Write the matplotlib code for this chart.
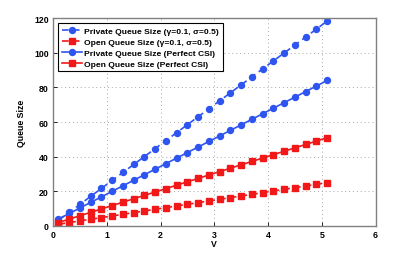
import matplotlib
matplotlib.use("Agg")
import matplotlib.pyplot as plt
import numpy as np

V = np.arange(0.1, 5.15, 0.2)

# fitted from the reference picture (straight lines)
private_est = 23.0 * V + 1.0
open_est = 4.8 * V + 0.5
private_csi = 16.0 * V + 2.4
open_csi = 9.8 * V + 1.0

blue = "#2f55f0"
red = "#f01818"

plt.rcParams["font.family"] = ["Liberation Sans", "DejaVu Sans"]
plt.rcParams["font.weight"] = "bold"

fig = plt.figure(figsize=(4.15, 2.55), dpi=100)
ax = fig.add_axes([0.128, 0.110, 0.777, 0.815])

ax.plot(V, private_est, "--o", color=blue, lw=1.2, ms=4.3, dashes=(4, 2.5),
        label="Private Queue Size (\u03b3=0.1, \u03c3=0.5)")
ax.plot(V, open_est, "--s", color=red, lw=1.2, ms=4.0, dashes=(4, 2.5),
        label="Open Queue Size (\u03b3=0.1, \u03c3=0.5)")
ax.plot(V, private_csi, "-o", color=blue, lw=1.2, ms=4.3,
        label="Private Queue Size (Perfect CSI)")
ax.plot(V, open_csi, "-s", color=red, lw=1.2, ms=4.0,
        label="Open Queue Size (Perfect CSI)")

ax.set_xlim(0, 6)
ax.set_ylim(0, 120)
ax.set_xticks(range(0, 7))
ax.set_yticks(range(0, 121, 20))
ax.grid(True, linestyle=(0, (1, 3)), color="#a8a8a8", lw=0.7)
ax.tick_params(labelsize=6.3, direction="in", length=3, width=0.6, pad=3)
for s in ax.spines.values():
    s.set_color("#808080")
    s.set_linewidth(1.0)
ax.set_xlabel("V", fontsize=6.3, fontweight="bold", labelpad=0)
ax.set_ylabel("Queue Size", fontsize=6.3, fontweight="bold", labelpad=6)

leg = ax.legend(loc="upper left", fontsize=6.1, frameon=True, fancybox=False,
                borderpad=0.4, labelspacing=0.38, handlelength=2.4,
                handletextpad=0.3, borderaxespad=0.6, framealpha=1)
leg.get_frame().set_edgecolor("black")
leg.get_frame().set_linewidth(0.8)
for t in leg.get_texts():
    t.set_fontweight("bold")

fig.savefig("out.png", dpi=100)
